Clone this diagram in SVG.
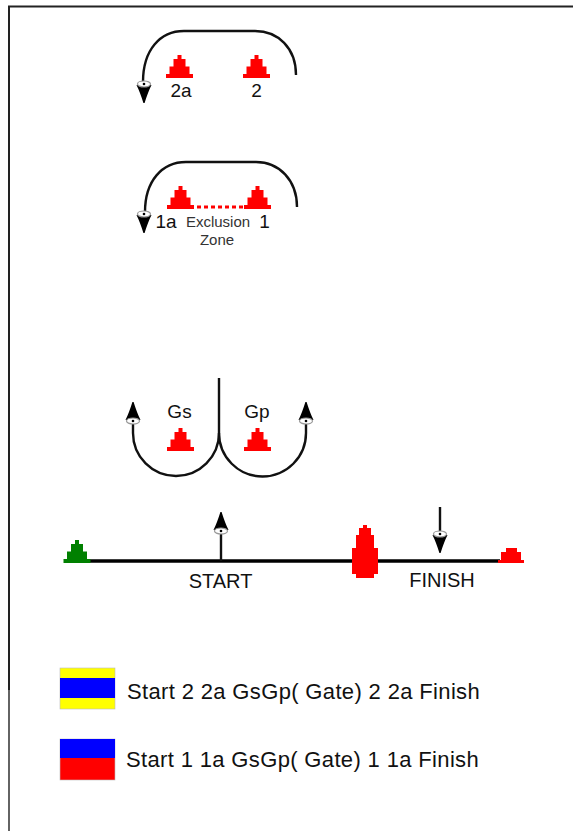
<svg xmlns="http://www.w3.org/2000/svg" xmlns:xlink="http://www.w3.org/1999/xlink" width="573" height="831" viewBox="0 0 573 831">
<style>
text{font-family:"Liberation Sans",Arial,sans-serif;fill:#111}
.c{text-anchor:middle}
.l{font-size:19px}
.b{font-size:20px}
.s{font-size:15px;fill:#333}
.leg{font-size:22px;letter-spacing:.35px}
.line{fill:none;stroke:#111;stroke-width:2.4}
.cone{fill:#f00}
</style>
<defs>
<polygon id="cone" points="-13.5,0 -13.5,-4 -10,-4 -10,-11.500 -6,-11.500 -6,-19 -2,-19 -2,-23 2,-23 2,-19 6,-19 6,-11.500 10,-11.500 10,-4 13.500,-4 13.500,0"/>
<g id="arrow">
<path d="M-7.500,1 H7.500 Q4,8 0.600,19 H-0.600 Q-4,8 -7.500,1Z" fill="#000"/>
<ellipse cx="0" cy="0" rx="6.500" ry="3" fill="#fff" stroke="#999" stroke-width="1.200"/>
<circle cx="0" cy="0" r="1.300" fill="#000"/>
</g>
</defs>
<rect width="573" height="831" fill="#fff"/>
<g id="frame"><path d="M573 6.500H9V690" fill="none" stroke="#222" stroke-width="2"/><path d="M9 690V831" fill="none" stroke="#222" stroke-width="1.400"/></g>
<g id="connectors">
<path class="line" d="M296 75C296 48 278 31 255 31H184C160 31 143 50 143 82"/>
<path class="line" d="M297 207C297 180 279 162 256 162H186C162 162 145 181 145 212"/>
<path class="line" d="M219 378V433A43 43 0 0 1 133 433V424"/>
<path class="line" d="M219 433A43.500 43.500 0 0 0 306 433V424"/>
<path d="M90 561H500" fill="none" stroke="#000" stroke-width="3.600"/>
<path class="line" d="M221 561V532"/>
<path class="line" d="M440 507V534"/>
<path d="M197 207H243" fill="none" stroke="#f00" stroke-width="3" stroke-dasharray="4 3"/>
</g>
<g id="arrow-2a"><use xlink:href="#arrow" href="#arrow" transform="translate(144 84)"/></g>
<g id="arrow-1a"><use xlink:href="#arrow" href="#arrow" transform="translate(144 214)"/></g>
<g id="arrow-gs"><use xlink:href="#arrow" href="#arrow" transform="translate(133 421) rotate(180)"/></g>
<g id="arrow-gp"><use xlink:href="#arrow" href="#arrow" transform="translate(306 421) rotate(180)"/></g>
<g id="arrow-start"><use xlink:href="#arrow" href="#arrow" transform="translate(221 531) rotate(180)"/></g>
<g id="arrow-finish"><use xlink:href="#arrow" href="#arrow" transform="translate(440 534)"/></g>
<g id="cone-2a"><use class="cone" xlink:href="#cone" href="#cone" transform="translate(179.500 78)"/><text class="l c" x="181" y="97">2a</text></g>
<g id="cone-2"><use class="cone" xlink:href="#cone" href="#cone" transform="translate(256.500 78)"/><text class="l c" x="256.500" y="97">2</text></g>
<g id="cone-1a"><use class="cone" xlink:href="#cone" href="#cone" transform="translate(180.500 209)"/><text class="l c" x="166" y="228">1a</text></g>
<g id="cone-1"><use class="cone" xlink:href="#cone" href="#cone" transform="translate(257.500 209)"/><text class="l c" x="264.500" y="228">1</text></g>
<g id="exclusion"><text class="s c" x="218" y="227">Exclusion</text><text class="s c" x="217" y="245">Zone</text></g>
<g id="cone-gs"><use class="cone" xlink:href="#cone" href="#cone" transform="translate(180.500 451)"/><text class="l c" x="179.500" y="418">Gs</text></g>
<g id="cone-gp"><use class="cone" xlink:href="#cone" href="#cone" transform="translate(257.500 451)"/><text class="l c" x="257" y="418">Gp</text></g>
<g id="cone-green"><use xlink:href="#cone" href="#cone" fill="#008000" transform="translate(77 563)"/></g>
<g id="buoy-red"><path class="cone" d="M352 574V548H356V535H359V528H363V525H367V528H371V535H374V548H378V574H374V578H356V574Z"/></g>
<g id="cone-end"><path class="cone" d="M498 563V560H501V552H506V548H517V552H521V560H524V563Z"/></g>
<g id="labels"><text class="b c" x="220.500" y="588">START</text><text class="b c" x="442" y="587">FINISH</text></g>
<g id="flag-1"><rect x="60" y="668" width="55" height="41" fill="#ff0" stroke="#bbb" stroke-width=".6"/><rect x="60" y="678" width="55" height="20" fill="#00f"/><text class="leg" x="127" y="699">Start 2 2a GsGp( Gate) 2 2a Finish</text></g>
<g id="flag-2"><rect x="60" y="739" width="55" height="41" fill="#f00" stroke="#bbb" stroke-width=".6"/><rect x="60" y="739" width="55" height="19" fill="#00f"/><text class="leg" x="126" y="767">Start 1 1a GsGp( Gate) 1 1a Finish</text></g>
</svg>
